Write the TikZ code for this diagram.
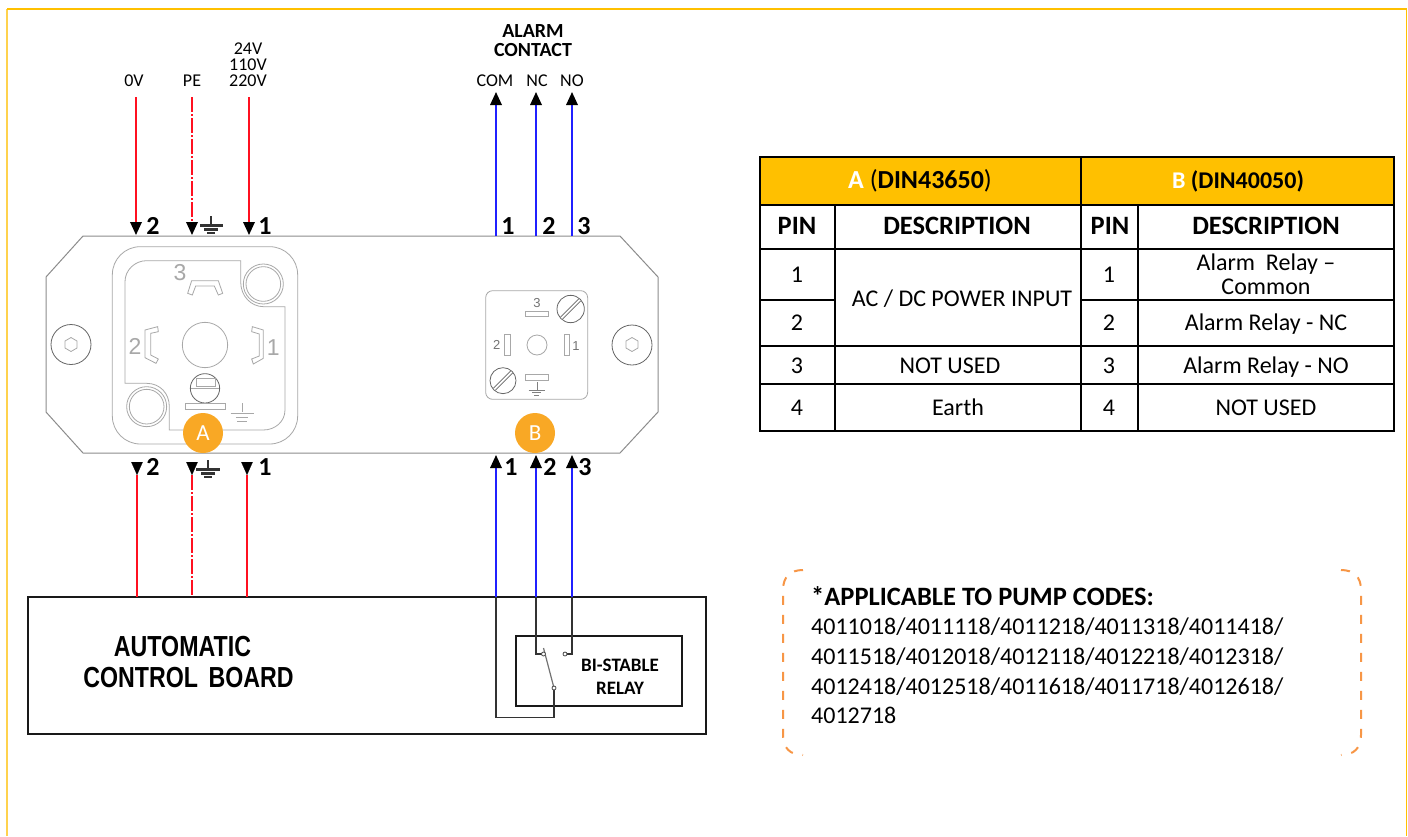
\documentclass[tikz,border=0pt]{standalone}
\usepackage{fontspec}
\setmainfont{Carlito}
\newfontfamily\lib{Liberation Sans}
\usetikzlibrary{arrows.meta}
\definecolor{frameY}{HTML}{FFC000}
\definecolor{frameL}{HTML}{FFD24D}
\definecolor{wred}{HTML}{FF1020}
\definecolor{wblue}{HTML}{2020FF}
\definecolor{badge}{HTML}{F9A825}
\definecolor{dashO}{HTML}{F79646}
\definecolor{plateG}{HTML}{8C8C8C}
\definecolor{connG}{HTML}{A8A8A8}
\tikzset{
  x=1pt,y=-1pt,
  txt/.style={font=\fontsize{#1}{#1}\selectfont,inner sep=0pt,text height=\dimexpr #1pt*64/100\relax,text depth=0pt},
  btxt/.style={font=\fontsize{#1}{#1}\selectfont\bfseries,inner sep=0pt,text height=\dimexpr #1pt*64/100\relax,text depth=0pt},
  ltxt/.style={txt=#1,anchor=west},
  wirer/.style={draw=wred,line width=1.8pt},
  wireb/.style={draw=wblue,line width=1.8pt},
  wired/.style={draw=black!80,line width=1.7pt},
  tipk/.style={-{Triangle[black,width=11.5pt,length=13pt]}},
  pe/.style={dash pattern=on 15pt off 2pt on 2pt off 2pt},
  platel/.style={draw=plateG,line width=1pt},
  connl/.style={draw=connG,line width=.8pt},
  connd/.style={draw=black!60,line width=.8pt},
  tl/.style={draw=black,line width=2pt},
  zoomA/.style={shift={(30,210)},x=.33333pt,y=-.33333pt},
  zoomB/.style={shift={(440,210)},x=.33333pt,y=-.33333pt},
  badgen/.style={circle,fill=badge,minimum size=40pt,inner sep=0pt,text=white,font=\fontsize{23}{23}\selectfont},
  bracket/.style={draw=dashO,line width=2pt,dash pattern=on 9pt off 10pt},
}
\newcommand{\earth}[3]{%
  \fill[black!80] (#1-1.2,#2) rectangle (#1+1.2,#2+10);
  \fill[black!80] (#1-#3,#2+8) rectangle (#1+#3,#2+11);
  \fill[black!80] (#1-#3*.62,#2+12) rectangle (#1+#3*.62,#2+14.8);
  \fill[black!80] (#1-#3*.32,#2+15.5) rectangle (#1+#3*.32,#2+18);
}
\begin{document}
\begin{tikzpicture}
\useasboundingbox (0,0) rectangle (1408,836);
\fill[white] (0,0) rectangle (1408,836);
% page frame
\draw[frameL,line width=1.5pt] (7,836) -- (7,9);
\draw[frameY,line width=1.5pt] (7,9) -- (1406.5,9) -- (1406.5,836);

% mounting plate
\draw[platel] (83,236) -- (620,236) -- (658,277) -- (658,412) -- (620,453) -- (83,453) -- (46,412) -- (46,277) -- cycle;

% screws
\draw[connd] (71,344.5) circle (20);
\draw[connl] (71,337.5) -- (77,341) -- (77,348) -- (71,351.5) -- (65,348) -- (65,341) -- cycle;
\draw[connd] (632,345) circle (20);
\draw[connl] (632,337.5) -- (638,341) -- (638,348) -- (632,351.5) -- (626,348) -- (626,341) -- cycle;

% connector A
\begin{scope}[zoomA]
\draw[connl,rounded corners=28pt] (247,110) rectangle (803,702);
\draw[connl] (285,520) -- (285,215) .. controls (285,180) and (315,152) .. (350,152) -- (632,152) -- (632,215)
  .. controls (632,260) and (665,290) .. (700,290) -- (765,290) -- (765,600)
  .. controls (765,635) and (735,660) .. (700,660) -- (418,660) -- (418,590)
  .. controls (418,550) and (390,520) .. (350,520) -- cycle;
\draw[connl] (700,222) circle (60);
\draw[connl] (700,222) circle (52);
\draw[connl] (350,590) circle (60);
\draw[connl] (350,590) circle (52);
\draw[connl] (525,405) circle (68);
\draw[connl] (473,250) -- (485,212) -- (565,212) -- (578,250) -- (565,255) -- (553,228) -- (497,228) -- (487,255) -- cycle;
\draw[connl] (345,360) -- (383,350) -- (385,365) -- (362,370) -- (362,435) -- (385,447) -- (378,460) -- (345,443) -- cycle;
\draw[connl] (700,360) -- (667,350) -- (665,365) -- (688,372) -- (688,438) -- (665,447) -- (670,462) -- (700,445) -- cycle;
\draw[connd] (525,535) circle (44);
\draw[connl] (500,505) rectangle (555,530);
\draw[connl] (482,535) -- (568,535);
\draw[connl] (465,580) rectangle (587,598);
\draw[connl] (637,580) -- (637,607);
\draw[connl] (602,610) -- (673,610);
\draw[connl] (618,622) -- (655,622);
\draw[connl] (622,635) -- (650,635);
\node[txt=23,text=connG] (a3) at (450,190) {\lib 3};
\node[txt=23,text=connG] (a2) at (315,410) {\lib 2};
\node[txt=23,text=connG] (a1) at (730,415) {\lib 1};
\end{scope}

% connector B
\begin{scope}[zoomB]
\draw[connl,rounded corners=7pt] (137,242) rectangle (443,568);
\draw[connd] (392,297) circle (41);
\draw[connd] (362,321) -- (416,267);
\draw[connd] (368,327) -- (422,273);
\draw[connd] (189,512) circle (39);
\draw[connd] (160,535) -- (212,483);
\draw[connd] (166,541) -- (218,489);
\draw[connl] (291,405) circle (30);
\draw[connl] (257,303) rectangle (326,318);
\draw[connl] (193,372) rectangle (210,437);
\draw[connl] (372,372) rectangle (389,437);
\draw[connl] (257,493) rectangle (326,511);
\draw[draw=black!50,line width=.8pt] (291,517) -- (291,540) (266,540) -- (316,540) (277,548) -- (304,548) (283,556) -- (298,556);
\node[txt=13,text=black!55] (b3) at (291,280) {\lib 3};
\node[txt=13,text=black!55] (b2) at (170,407) {\lib 2};
\node[txt=13,text=black!55] (b1) at (408,408) {\lib 1};
\end{scope}

% badges
\node[badgen] (badgeA) at (203,433) {A};
\node[badgen] (badgeB) at (535,433) {B};

% wire end coordinates
\coordinate (r1t) at (136,97);   \coordinate (r1p) at (136,235);
\coordinate (r2t) at (192,97);   \coordinate (r2p) at (192,235);
\coordinate (r3t) at (249,97);   \coordinate (r3p) at (249,235);
\coordinate (r1q) at (137,462);  \coordinate (r1e) at (137,597);
\coordinate (r2q) at (192,462);  \coordinate (r2e) at (192,597);
\coordinate (r3q) at (247,462);  \coordinate (r3e) at (247,597);
\coordinate (c1t) at (496,92);   \coordinate (c1p) at (496,236);
\coordinate (c2t) at (536,92);   \coordinate (c2p) at (536,236);
\coordinate (c3t) at (572,92);   \coordinate (c3p) at (572,236);
\coordinate (d1t) at (496,455);  \coordinate (d1b) at (496,597);
\coordinate (d2t) at (536,455);  \coordinate (d2b) at (536,597);
\coordinate (d3t) at (572,455);  \coordinate (d3b) at (572,597);
\coordinate (p475a) at (137,475); \coordinate (p475b) at (192,475); \coordinate (p475c) at (247,475);

% board and relay
\node[draw=black!90,line width=2pt,minimum width=678pt,minimum height=137pt,inner sep=0pt,anchor=north west] (board) at (27,596) {};
\node[draw=black!90,line width=2pt,minimum width=166pt,minimum height=70pt,inner sep=0pt,anchor=north west] (relay) at (515,635) {};
\node[btxt=29] (ab1) at (182.5,647) {\lib\scalebox{.80}[1]{AUTOMATIC}};
\node[btxt=29] (ab2) at (188.5,678) {\lib\scalebox{.80}[1]{CONTROL\hspace{.45em}BOARD}};
\node[btxt=19] (rl1) at (620,665) {BI-STABLE};
\node[btxt=19] (rl2) at (620,688) {RELAY};

% supply wires top
\draw[wirer,tipk] (r1t) -- (r1p);
\draw[wirer,pe,tipk] (r2t) -- (r2p);
\draw[wirer,tipk] (r3t) -- (r3p);
% supply wires bottom
\draw[wirer] (p475a) -- (r1e);
\draw[wirer,pe] (p475b) -- (r2e);
\draw[wirer] (p475c) -- (r3e);
\draw[black,line width=.1pt,tipk] (r1q) -- (p475a);
\draw[black,line width=.1pt,tipk] (r2q) -- (p475b);
\draw[black,line width=.1pt,tipk] (r3q) -- (p475c);
% alarm wires
\draw[wireb,tipk] (c1p) -- (c1t);
\draw[wireb,tipk] (c2p) -- (c2t);
\draw[wireb,tipk] (c3p) -- (c3t);
\draw[wireb,tipk] (d1b) -- (d1t);
\draw[wireb,tipk] (d2b) -- (d2t);
\draw[wireb,tipk] (d3b) -- (d3t);

% relay wiring
\coordinate (sw1) at (543.5,654);
\coordinate (sw2) at (565,654);
\coordinate (sw3) at (554,688);
\draw[wired] (d1b) |- (554,717.5) -- (sw3);
\draw[wired] (d2b) |- (sw1);
\draw[wired] (d3b) |- (sw2);
\draw[draw=black!55,line width=1.2pt] (543.5,648) -- (sw3);
\draw[draw=black!70,line width=.8pt,fill=white] (sw1) circle (2);
\draw[draw=black!70,line width=.8pt,fill=white] (sw2) circle (2);
\draw[draw=black!70,line width=.8pt,fill=white] (sw3) circle (2);

% pin numbers
\node[btxt=26] (t2) at (153,226.5) {2};
\node[btxt=26] (t1) at (265,226.5) {1};
\node[btxt=26] (u1) at (508,226.5) {1};
\node[btxt=26] (u2) at (549,226.5) {2};
\node[btxt=26] (u3) at (584,226.5) {3};
\node[btxt=26] (v2) at (153,467.5) {2};
\node[btxt=26] (v1) at (265,467.5) {1};
\node[btxt=26] (w1) at (511,467.5) {1};
\node[btxt=26] (w2) at (550,467.5) {2};
\node[btxt=26] (w3) at (585,467.5) {3};
\earth{211}{216}{11.5}
\earth{208}{460}{12}

% top labels
\node[txt=18] (l0v) at (134,80.5) {0V};
\node[txt=18] (lpe) at (192,81) {PE};
\node[txt=18] (l24) at (248,49) {24V};
\node[txt=18] (l110) at (248,65) {110V};
\node[txt=18] (l220) at (248,81) {220V};
\node[btxt=20] (la1) at (533,31) {ALARM};
\node[btxt=20] (la2) at (533,50) {CONTACT};
\node[txt=18] (lc) at (495,81) {COM};
\node[txt=18] (lnc) at (537,81) {NC};
\node[txt=18] (lno) at (572,81) {NO};

% table
\fill[frameY] (760,157) rectangle (1394,205);
\draw[tl] (760,157) rectangle (1394,431);
\draw[tl] (1081,157) -- (1081,431);
\draw[tl] (835,205) -- (835,431);
\draw[tl] (1138,205) -- (1138,431);
\draw[tl] (760,205) -- (1394,205);
\draw[tl] (760,249) -- (1394,249);
\draw[tl] (760,300) -- (835,300);
\draw[tl] (1081,300) -- (1394,300);
\draw[tl] (760,346) -- (1394,346);
\draw[tl] (760,384) -- (1394,384);
\node[txt=26] (ha) at (920,180) {\textbf{\textcolor{white}{A}} (\textbf{DIN43650})};
\node[btxt=24] (hb) at (1238,181) {\textcolor{white}{B} (DIN40050)};
\node[btxt=26.5] (pa) at (797,226) {PIN};
\node[btxt=26.5] (da) at (957,226) {DESCRIPTION};
\node[btxt=26.5] (pb) at (1110,226) {PIN};
\node[btxt=26.5] (db) at (1266,226) {DESCRIPTION};
\node[txt=24] (a1n) at (797,275) {1};
\node[txt=24] (a2n) at (797,323) {2};
\node[txt=24] (a3n) at (797,366) {3};
\node[txt=24] (a4n) at (797,408) {4};
\node[txt=24] (b1n) at (1109,275) {1};
\node[txt=24] (b2n) at (1109,323) {2};
\node[txt=24] (b3n) at (1109,366) {3};
\node[txt=24] (b4n) at (1109,408) {4};
\node[txt=24] (acdc) at (962,299) {AC / DC POWER INPUT};
\node[txt=24] (nu1) at (950,366) {NOT USED};
\node[txt=24] (ear) at (958,408) {Earth};
\node[txt=24] (ar1) at (1266,263) {Alarm\ \ Relay --};
\node[txt=24] (ar1b) at (1266,287) {Common};
\node[txt=24] (ar2) at (1266,323) {Alarm Relay - NC};
\node[txt=24] (ar3) at (1266,366) {Alarm Relay - NO};
\node[txt=24] (nu2) at (1266,408) {NOT USED};

% note brackets
\draw[bracket] (803,570) .. controls (790,570) and (783,577) .. (783,590) -- (783,735) .. controls (783,748) and (790,755) .. (803,755);
\draw[bracket] (1341,570) .. controls (1354,570) and (1361,577) .. (1361,590) -- (1361,735) .. controls (1361,748) and (1354,755) .. (1341,755);
\node[btxt=26.5,anchor=west] (nh) at (811,597) {*APPLICABLE TO PUMP CODES:};
\node[ltxt=24] (n1) at (811,627) {4011018/4011118/4011218/4011318/4011418/};
\node[ltxt=24] (n2) at (811,657) {4011518/4012018/4012118/4012218/4012318/};
\node[ltxt=24] (n3) at (811,687) {4012418/4012518/4011618/4011718/4012618/};
\node[ltxt=24] (n4) at (811,716) {4012718};
\end{tikzpicture}
\end{document}
